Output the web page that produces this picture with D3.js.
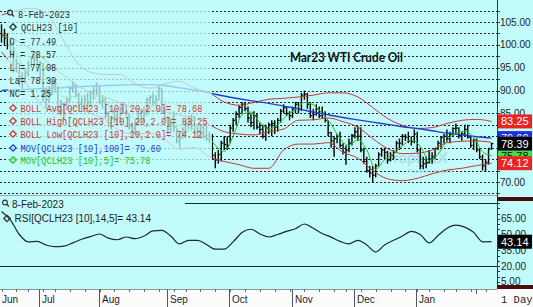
<!DOCTYPE html>
<html>
<head>
<meta charset="utf-8">
<script src="https://cdn.jsdelivr.net/npm/d3@7"></script>
<style>
  body { margin: 0; background: #fff; }
  svg { display: block; }
</style>
</head>
<body>
<div id="chart"></div>
<script>
// sessions
var firstDay = "2022-06-13", lastDay = "2023-02-08";
var holidays = ["2022-06-20", "2022-07-04", "2022-09-05", "2022-11-24", "2022-12-26", "2023-01-02", "2023-01-16"];

// daily bars, one value per session
var highs = [
  104.5,103.5,102.5,101.5,100.5,97.0,96.0,94.0,94.5,96.5,
  97.5,98.0,97.5,96.5,96.0,90.5,91.0,92.0,92.5,91.0,
  88.0,87.5,88.5,91.0,92.0,91.5,89.5,88.5,89.0,89.5,
  90.0,91.0,91.8,91.0,89.0,88.5,85.5,84.5,86.0,85.5,
  86.5,87.5,87.0,85.0,83.0,83.5,85.5,86.0,86.5,88.5,
  89.0,89.5,89.0,91.2,90.5,86.5,84.5,84.0,85.5,82.0,
  80.5,82.0,83.5,84.5,84.8,84.5,82.0,82.5,82.5,82.5,
  81.0,80.5,76.5,77.0,79.0,80.0,80.0,82.5,84.0,85.5,
  86.8,87.5,87.5,86.5,85.0,85.5,85.0,83.0,82.5,82.5,
  83.0,83.5,83.5,84.0,86.0,87.0,86.5,85.5,86.5,87.5,
  87.5,89.5,90.0,89.5,87.5,86.0,87.0,86.5,86.5,85.5,
  83.5,81.0,80.0,80.5,81.0,78.5,78.0,79.5,80.5,82.0,
  82.2,82.0,77.5,75.5,73.5,73.5,74.0,76.5,77.5,77.5,
  76.8,76.5,77.0,79.0,79.5,80.5,80.5,81.0,80.0,81.5,
  81.0,77.5,75.5,75.5,77.0,76.5,77.5,79.0,80.0,80.5,
  81.5,81.0,82.0,82.8,82.0,81.0,82.5,82.5,80.0,79.5,
  79.5,77.5,76.0,75.0,77.5,78.57
];
var lows = [
  100.5,100.0,99.0,98.0,94.0,94.0,91.0,90.5,91.5,93.0,
  95.0,95.5,94.0,92.5,87.5,86.0,87.5,89.0,89.5,85.5,
  84.5,83.5,86.0,87.5,89.5,88.5,86.5,85.5,86.0,86.5,
  86.5,88.0,89.0,87.0,86.0,84.0,82.0,81.5,83.0,83.0,
  83.0,85.0,84.5,81.5,80.5,80.5,82.5,84.0,83.0,84.5,
  87.0,86.5,86.5,88.0,85.0,83.5,80.5,81.0,81.0,78.5,
  77.5,79.5,80.5,81.5,81.5,80.5,79.5,79.5,79.5,79.0,
  78.5,75.0,73.0,74.0,74.5,77.0,77.0,78.5,81.0,82.5,
  84.0,85.0,85.5,83.0,82.0,81.5,81.5,80.5,79.5,79.0,
  80.5,80.0,80.5,81.0,83.0,85.0,84.5,83.5,84.0,85.0,
  85.0,85.5,88.0,86.0,84.0,83.5,84.5,84.0,84.0,83.0,
  80.0,77.5,75.5,78.5,77.5,76.0,73.8,76.5,78.0,79.5,
  79.0,76.5,74.0,72.0,71.0,70.0,71.0,73.5,75.5,75.0,
  74.0,74.5,75.0,76.5,77.0,78.0,79.0,78.5,78.0,78.5,
  76.5,72.8,72.8,73.0,74.0,74.0,75.0,77.0,77.5,78.5,
  78.8,78.5,80.0,80.5,79.5,79.0,80.0,79.5,77.5,77.0,
  76.5,75.0,72.5,72.2,73.8,77.08
];
var closes = [
  102.0,101.5,100.0,100.5,94.8,96.0,93.0,92.0,93.8,95.5,
  97.0,96.8,95.0,96.0,89.0,88.0,90.5,91.0,91.5,86.5,
  87.0,86.8,88.0,90.5,91.0,89.0,87.0,86.5,88.2,87.5,
  89.5,90.0,91.0,87.5,87.8,84.5,83.0,83.8,84.5,84.0,
  86.0,86.8,85.0,82.5,81.8,83.0,85.0,85.5,85.0,88.0,
  88.5,87.5,88.0,90.5,85.5,84.0,81.5,82.8,82.0,79.0,
  79.5,81.5,82.5,83.0,83.5,81.0,81.2,82.0,80.0,79.5,
  80.0,75.8,74.8,76.0,78.5,78.2,78.0,81.8,83.5,84.8,
  86.3,87.0,86.0,84.0,83.0,84.5,82.0,81.5,80.0,81.8,
  82.5,82.8,82.0,83.5,85.5,86.3,85.0,84.5,86.0,87.0,
  86.0,89.0,89.2,87.0,84.5,84.8,86.0,84.5,85.0,83.5,
  80.8,79.0,79.5,80.0,78.0,76.5,77.0,78.5,80.2,81.0,
  80.0,77.0,74.5,72.5,72.0,71.5,73.5,76.0,77.0,76.5,
  74.8,75.8,76.5,78.5,78.5,80.0,79.8,79.0,78.8,80.5,
  77.0,73.5,74.0,74.2,75.0,75.5,77.3,78.5,79.8,80.0,
  79.5,80.5,81.7,81.8,80.2,80.5,81.5,79.8,78.0,79.0,
  77.0,75.5,73.5,74.3,77.2,78.39
];

// studies, every 5th session
var bollAvg = [102.5,101,99,96.5,93.8,91.4,89.5,88.6,87.3,86.0,85.6,85.4,84.6,84.0,82.5,81.0,80.5,
               80.3,81.0,81.6,83.5,83.6,84.0,83.2,82.0,79.5,77.3,76.2,76.3,77.0,78.6,78.9,79.0,78.68];
var bollHigh = [106.5,107.5,108,107,102,96.5,94,93.5,93.5,91.5,90.5,91.5,92,90.5,89.5,87.5,86.8,
                87.4,88.1,88.3,88.6,89.0,89.5,89.5,88.6,86.3,83.9,82.4,81.7,81.9,82.8,83.5,83.7,83.25];
var bollLow = [98.5,94.5,90,86,85.6,86.3,85,83.7,81.1,80.5,80.7,79.3,77.2,77.5,75.5,74.5,73.8,
               73.0,73.0,77.0,78.3,78.3,78.6,76.5,75.2,72.5,70.7,70.3,70.8,71.8,72.6,73.0,73.6,74.12];
var mov100 = [90.0,90.2,90.3,90.5,90.6,90.8,91.0,91.1,91.2,91.3,91.3,91.1,90.6,90.1,89.5,88.8,88.2,
              87.7,87.2,86.6,86.0,85.3,84.7,84.1,83.6,83.1,82.6,82.1,81.7,81.2,80.7,80.3,79.9,79.60];
// every 3rd session
var mov5 = [102.0,101.0,96.9,94.1,95.6,93.0,90.0,88.6,88.7,88.8,87.7,89.1,86.8,84.0,85.3,83.8,84.1,
            86.9,88.0,84.9,81.0,81.1,82.2,80.7,78.0,76.7,80.0,84.7,85.3,83.0,81.6,82.5,84.5,85.8,
            87.4,86.9,85.0,82.6,79.5,78.0,79.3,77.0,72.8,74.9,76.1,77.9,79.2,77.8,74.7,76.1,79.0,
            80.7,81.1,79.8,76.6,75.78];
var rsi = [72,64,50,43,43.5,40,38.5,39,42,45.5,48,50.5,46.5,45,47.6,46,48.5,53.5,54,48.5,41,44.5,
           44.5,40.5,36,36,43,52,55,50.5,47.6,50,53,55.5,60,56,51,47.5,43.5,41,44.5,40,33.3,40,
           44.5,48.5,53,50,42,49,56,59,57,52,43,43.14];

// 80.00 and 75.00 sit under the value boxes on the original, so they are not shown
var priceTicks = [105, 100, 95, 90, 85, 70];
var rsiTicks = [65, 50, 35, 20, 5];
var monthLabels = ["Jun", "Jul", "Aug", "Sep", "Oct", "Nov", "Dec", "Jan"];

var W = 533, H = 307;
var BG = "#c2fbfb";
var plotR = 497, mainBot = 195, rsiTop = 196, rsiBot = 288, stripTop = 289;

var parse = d3.timeParse("%Y-%m-%d"), fmt = d3.timeFormat("%Y-%m-%d");
var hol = new Set(holidays);
var days = d3.timeDay.range(parse(firstDay), d3.timeDay.offset(parse(lastDay), 1))
    .filter(function (d) { return d.getDay() % 6 !== 0 && !hol.has(fmt(d)); });
var keys = days.map(fmt);
var k5 = keys.filter(function (d, i) { return i % 5 === 0; });
var k3 = keys.filter(function (d, i) { return i % 3 === 0; });

var x = d3.scalePoint().domain(keys).range([1.5, 491.5]);
var y = d3.scaleLinear().domain([70, 105]).range([182, 22]);
var yR = d3.scaleLinear().domain([20, 80]).range([266, 203]);
var f2 = d3.format(".2f");

var svg = d3.select("#chart").append("svg").attr("width", W).attr("height", H);
svg.append("rect").attr("width", W).attr("height", H).attr("fill", BG);

var defs = svg.append("defs");
defs.append("clipPath").attr("id", "clipMain").append("rect")
    .attr("x", 0).attr("y", 0).attr("width", plotR).attr("height", mainBot);
defs.append("clipPath").attr("id", "clipRsi").append("rect")
    .attr("x", 0).attr("y", rsiTop).attr("width", plotR).attr("height", rsiBot - rsiTop);

// ---------- main panel ----------
var main = svg.append("g").attr("clip-path", "url(#clipMain)");

main.selectAll("line.grid").data(d3.range(67.5, 110, 2.5)).join("line")
    .attr("x1", 0).attr("x2", plotR)
    .attr("y1", function (d) { return Math.round(y(d)) + 0.5; })
    .attr("y2", function (d) { return Math.round(y(d)) + 0.5; })
    .attr("stroke", "#1c2626").attr("stroke-dasharray", "2,2");

main.append("text").attr("x", 384).attr("y", 163)
    .attr("font-family", "Lato, 'Liberation Sans', sans-serif").attr("font-weight", "bold")
    .attr("font-size", 15).attr("fill", "#aee0e6").text("ProphetX");
main.append("text").attr("x", 408).attr("y", 173)
    .attr("font-family", "'Liberation Sans', sans-serif").attr("font-size", 6)
    .attr("fill", "#aee0e6").text("Powered by DTN");

var bars = main.append("g").attr("stroke", "#000");
bars.selectAll("line.hl").data(keys).join("line").attr("class", "hl")
    .attr("x1", function (d) { return x(d); }).attr("x2", function (d) { return x(d); })
    .attr("y1", function (d, i) { return y(highs[i]); })
    .attr("y2", function (d, i) { return y(lows[i]); })
    .attr("stroke-width", 1.4);
bars.selectAll("line.cl").data(keys).join("line").attr("class", "cl")
    .attr("x1", function (d) { return x(d); }).attr("x2", function (d) { return x(d) + 2; })
    .attr("y1", function (d, i) { return y(closes[i]); })
    .attr("y2", function (d, i) { return y(closes[i]); })
    .attr("stroke-width", 1.2);

function study(vals, ks, color, width) {
    var line = d3.line()
        .x(function (d, i) { return x(ks[i]); })
        .y(function (d) { return y(d); })
        .curve(d3.curveMonotoneX);
    main.append("path").datum(vals).attr("d", line)
        .attr("fill", "none").attr("stroke", color).attr("stroke-width", width);
}
var RED = "#cc3434", BLUE = "#1f3fd0", GREEN = "#22c322";
study(bollHigh, k5, RED, 1);
study(bollAvg, k5, RED, 1);
study(bollLow, k5, RED, 1);
study(mov100, k5, BLUE, 1.4);
study(mov5, k3, GREEN, 1);

// legend backdrop
main.append("rect").attr("x", 8).attr("y", 0).attr("width", 204).attr("height", 166)
    .attr("fill", BG).attr("opacity", 0.74);

svg.append("line").attr("x1", 0).attr("x2", plotR).attr("y1", 195.5).attr("y2", 195.5)
    .attr("stroke", "#9aabab");

// legend
var leg = svg.append("g").attr("font-family", "'Liberation Mono', monospace").attr("font-size", 10.5);
function diamond(g, cx, cy, color) {
    g.append("path").attr("d", "M" + cx + "," + (cy - 3.2) + "L" + (cx + 3.2) + "," + cy +
        "L" + cx + "," + (cy + 3.2) + "L" + (cx - 3.2) + "," + cy + "Z")
        .attr("fill", "none").attr("stroke", color).attr("stroke-width", 1.3);
}
function magnifier(g, cx, cy, color) {
    g.append("circle").attr("cx", cx).attr("cy", cy).attr("r", 2.4)
        .attr("fill", "none").attr("stroke", color).attr("stroke-width", 1.1);
    g.append("line").attr("x1", cx + 1.7).attr("y1", cy + 1.7).attr("x2", cx + 4).attr("y2", cy + 4)
        .attr("stroke", color).attr("stroke-width", 1.3);
}
var last = closes.length - 1;
var DARK = "#2e2e2e";
var legendRows = [
    { t: "8-Feb-2023", x: 18, y: 14, c: DARK, icon: "mag" },
    { t: "QCLH23 [10]", x: 21, y: 27, c: DARK, icon: "dia" },
    { t: "O = 77.49", x: 9.5, y: 41, c: DARK },
    { t: "H = " + f2(highs[last]), x: 9.5, y: 54, c: DARK },
    { t: "L = " + f2(lows[last]), x: 9.5, y: 67, c: DARK },
    { t: "La= " + f2(closes[last]), x: 9.5, y: 80, c: DARK },
    { t: "NC= 1.25", x: 9.5, y: 93, c: DARK },
    { t: "BOLL Avg[QCLH23 [10],20,2.0]= " + f2(bollAvg[bollAvg.length - 1]), x: 20.5, y: 108, c: RED, icon: "dia" },
    { t: "BOLL High[QCLH23 [10],20,2.0]= " + f2(bollHigh[bollHigh.length - 1]), x: 20.5, y: 121, c: RED, icon: "dia" },
    { t: "BOLL Low[QCLH23 [10],20,2.0]= " + f2(bollLow[bollLow.length - 1]), x: 20.5, y: 134, c: RED, icon: "dia" },
    { t: "MOV[QCLH23 [10],100]= " + f2(mov100[mov100.length - 1]), x: 20.5, y: 148, c: BLUE, icon: "dia" },
    { t: "MOV[QCLH23 [10],5]= " + f2(mov5[mov5.length - 1]), x: 20.5, y: 160, c: GREEN, icon: "dia" }
];
legendRows.forEach(function (r) {
    if (r.icon === "dia") diamond(leg, 13, r.y, r.c);
    if (r.icon === "mag") magnifier(leg, 10, r.y - 1.5, DARK);
    leg.append("text").attr("x", r.x).attr("y", r.y + 3.5).attr("fill", r.c)
        .attr("textLength", r.t.length * 5.2).attr("lengthAdjust", "spacingAndGlyphs").text(r.t);
});

svg.append("text").attr("x", 290).attr("y", 62)
    .attr("font-family", "Lato, 'Liberation Sans', sans-serif").attr("font-weight", "bold")
    .attr("font-size", 12.5).attr("fill", "#111")
    .attr("textLength", 113).attr("lengthAdjust", "spacingAndGlyphs")
    .text("Mar23 WTI Crude Oil");

// ---------- RSI panel ----------
var rp = svg.append("g").attr("clip-path", "url(#clipRsi)");
rp.selectAll("line.lvl").data([80, 20]).join("line")
    .attr("x1", 0).attr("x2", plotR)
    .attr("y1", function (d) { return Math.round(yR(d)) + 0.5; })
    .attr("y2", function (d) { return Math.round(yR(d)) + 0.5; })
    .attr("stroke", "#1a2b2b").attr("stroke-width", 1.2);
rp.append("path").datum(rsi)
    .attr("d", d3.line().x(function (d, i) { return x(k3[i]); }).y(function (d) { return yR(d); })
        .curve(d3.curveMonotoneX))
    .attr("fill", "none").attr("stroke", "#1d2a2a").attr("stroke-width", 1.2);
rp.append("rect").attr("x", 0).attr("y", rsiTop).attr("width", 185).attr("height", 13).attr("fill", BG);

var rl = svg.append("g").attr("font-family", "'Liberation Sans', Arial, sans-serif").attr("font-size", 10).attr("fill", "#1e1e1e");
magnifier(rl, 5, 202.5, "#333");
rl.append("text").attr("x", 12).attr("y", 208).text("8-Feb-2023");
diamond(rl, 7, 218.5, "#333");
rl.append("text").attr("x", 14.5).attr("y", 222).text("RSI[QCLH23 [10],14,5]= " + f2(rsi[rsi.length - 1]));

// ---------- right axes ----------
var ax = svg.append("g").attr("font-family", "'Liberation Sans', Arial, sans-serif").attr("font-size", 10);
ax.append("line").attr("x1", plotR + 0.5).attr("x2", plotR + 0.5).attr("y1", 0).attr("y2", stripTop)
    .attr("stroke", "#2a3a3a");
ax.selectAll("line.pt").data(d3.range(67.5, 110, 2.5)).join("line")
    .attr("x1", plotR).attr("x2", plotR + 3)
    .attr("y1", function (d) { return Math.round(y(d)) + 0.5; })
    .attr("y2", function (d) { return Math.round(y(d)) + 0.5; })
    .attr("stroke", "#2a3a3a");
ax.selectAll("text.pl").data(priceTicks).join("text")
    .attr("x", 500).attr("y", function (d) { return y(d) + 3.5; })
    .attr("fill", "#1e1e1e").text(function (d) { return f2(d); });

ax.selectAll("line.rt").data(d3.range(0, 90, 5)).join("line")
    .attr("x1", plotR).attr("x2", plotR + 3)
    .attr("y1", function (d) { return Math.round(yR(d)) + 0.5; })
    .attr("y2", function (d) { return Math.round(yR(d)) + 0.5; })
    .attr("stroke", "#2a3a3a");
ax.selectAll("text.rl").data(rsiTicks).join("text")
    .attr("x", 501).attr("y", function (d) { return yR(d) + 3.5; })
    .attr("fill", "#1e1e1e").text(function (d) { return f2(d); });

ax.append("rect").attr("x", plotR).attr("y", 197).attr("width", W - plotR).attr("height", 4).attr("fill", "#4a0c0c");
ax.append("rect").attr("x", plotR).attr("y", 285).attr("width", W - plotR).attr("height", 4).attr("fill", "#4a0c0c");

// value boxes; the blue and green ones are partly covered, so their text is clipped
var boxH = 14;
var yClose = y(closes[last]), yLow = y(bollLow[bollLow.length - 1]);
defs.append("clipPath").attr("id", "clipBlue").append("rect")
    .attr("x", plotR).attr("y", 0).attr("width", W - plotR).attr("height", yClose - boxH / 2);
defs.append("clipPath").attr("id", "clipGreen").append("rect")
    .attr("x", plotR).attr("y", yClose + boxH / 2).attr("width", W - plotR)
    .attr("height", (yLow - boxH / 2) - (yClose + boxH / 2));
var boxes = [
    { v: mov100[mov100.length - 1], bg: "#1f2fe0", fg: "#fff", s: y, clip: "clipBlue" },
    { v: mov5[mov5.length - 1], bg: "#3fe03f", fg: "#111", s: y, clip: "clipGreen" },
    { v: bollHigh[bollHigh.length - 1], bg: "#ea2323", fg: "#fff", s: y },
    { v: closes[last], bg: "#000", fg: "#fff", s: y },
    { v: bollLow[bollLow.length - 1], bg: "#ea2323", fg: "#fff", s: y },
    { v: rsi[rsi.length - 1], bg: "#000", fg: "#fff", s: yR }
];
boxes.forEach(function (b) {
    var cy = b.s(b.v);
    var g = ax.append("g");
    if (b.clip) g.attr("clip-path", "url(#" + b.clip + ")");
    g.append("rect").attr("x", plotR + 1).attr("y", cy - boxH / 2).attr("width", 34).attr("height", boxH).attr("fill", b.bg);
    g.append("text").attr("x", 501).attr("y", cy + 4).attr("font-size", 11).attr("fill", b.fg).text(f2(b.v));
});

// ---------- time strip ----------
var strip = svg.append("g");
strip.append("rect").attr("x", 0).attr("y", stripTop).attr("width", W).attr("height", H - stripTop).attr("fill", "#fbfbfb");
strip.append("line").attr("x1", 0).attr("x2", plotR).attr("y1", stripTop + 0.5).attr("y2", stripTop + 0.5).attr("stroke", "#8a9898");
var mondays = keys.filter(function (d, i) { return i === 0 || parse(d).getDay() < parse(keys[i - 1]).getDay(); });
strip.selectAll("line.wk").data(mondays).join("line")
    .attr("x1", function (d) { return Math.round(x(d)) + 0.5; })
    .attr("x2", function (d) { return Math.round(x(d)) + 0.5; })
    .attr("y1", stripTop).attr("y2", stripTop + 3).attr("stroke", "#6a6a6a");
var monthStarts = keys.filter(function (d, i) { return i > 0 && d.slice(5, 7) !== keys[i - 1].slice(5, 7); });
strip.selectAll("line.mo").data(monthStarts).join("line")
    .attr("x1", function (d) { return Math.round(x(d)) - 0.5; })
    .attr("x2", function (d) { return Math.round(x(d)) - 0.5; })
    .attr("y1", stripTop).attr("y2", function (d, i) { return i < monthLabels.length - 1 ? H : stripTop + 5; })
    .attr("stroke", "#505858");
var labelX = [2].concat(monthStarts.slice(0, monthLabels.length - 1).map(function (d) { return Math.round(x(d)) + 2; }));
strip.selectAll("text.mo").data(monthLabels).join("text")
    .attr("x", function (d, i) { return labelX[i]; }).attr("y", 303)
    .attr("font-family", "'Liberation Sans', Arial, sans-serif").attr("font-size", 10)
    .attr("fill", "#1e1e1e").text(function (d) { return d; });
strip.append("text").attr("x", 501).attr("y", 303)
    .attr("font-family", "'Liberation Mono', monospace").attr("font-size", 10.5)
    .attr("fill", "#1e1e1e").text("1 Day");
</script>
</body>
</html>
